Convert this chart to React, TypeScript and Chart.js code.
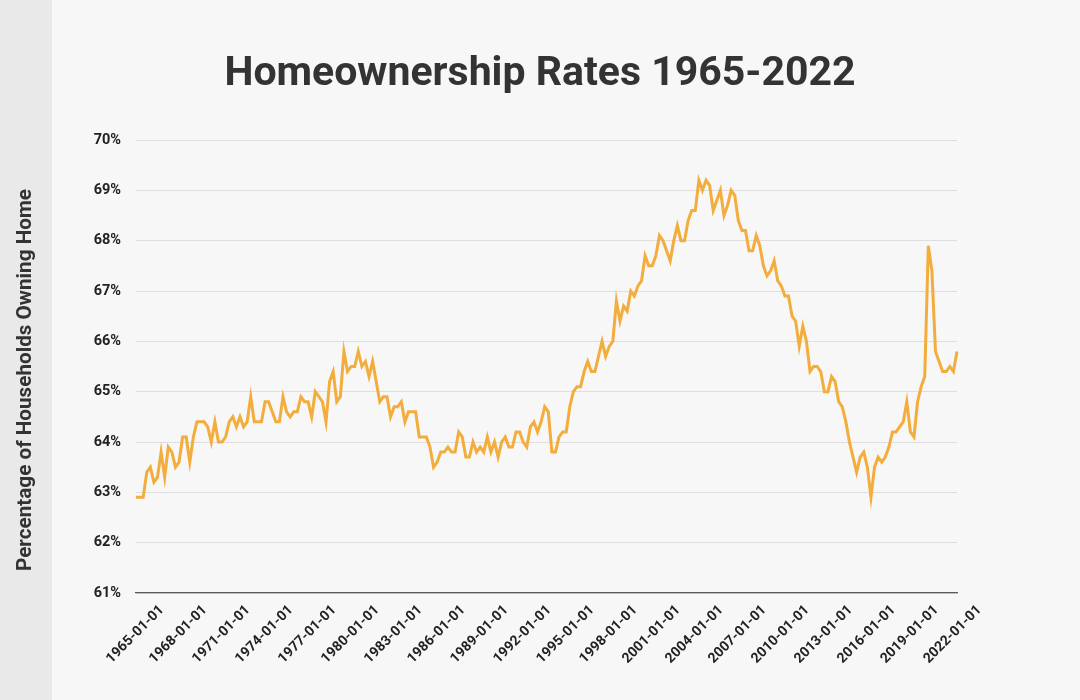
import React, { useEffect, useRef } from 'react';
import { Chart, registerables } from 'chart.js';

Chart.register(...registerables);

const TITLE = 'Homeownership Rates 1965-2022';
const Y_TITLE = 'Percentage of Households Owning Home';
const START_YEAR = 1965;
const QUARTER_MONTHS = ['01', '04', '07', '10'];
const Y_MIN = 61;
const Y_MAX = 70;
const TICK_EVERY = 12;

// Quarterly homeownership rate (%)
const rates1960s = [
  62.9, 62.9, 62.9, 63.4, 63.5, 63.2, 63.3, 63.8, 63.3, 63.9, 63.8, 63.5,
  63.6, 64.1, 64.1, 63.6, 64.1, 64.4, 64.4, 64.4,
];
const rates1970s = [
  64.3, 64.0, 64.4, 64.0, 64.0, 64.1, 64.4, 64.5, 64.3, 64.5, 64.3, 64.4,
  64.9, 64.4, 64.4, 64.4, 64.8, 64.8, 64.6, 64.4, 64.4, 64.9, 64.6, 64.5,
  64.6, 64.6, 64.9, 64.8, 64.8, 64.5, 65.0, 64.9, 64.8, 64.4, 65.2, 65.4,
  64.8, 64.9, 65.8, 65.4,
];
const rates1980s = [
  65.5, 65.5, 65.8, 65.5, 65.6, 65.3, 65.6, 65.2, 64.8, 64.9, 64.9, 64.5,
  64.7, 64.7, 64.8, 64.4, 64.6, 64.6, 64.6, 64.1, 64.1, 64.1, 63.9, 63.5,
  63.6, 63.8, 63.8, 63.9, 63.8, 63.8, 64.2, 64.1, 63.7, 63.7, 64.0, 63.8,
  63.9, 63.8, 64.1, 63.8,
];
const rates1990s = [
  64.0, 63.7, 64.0, 64.1, 63.9, 63.9, 64.2, 64.2, 64.0, 63.9, 64.3, 64.4,
  64.2, 64.4, 64.7, 64.6, 63.8, 63.8, 64.1, 64.2, 64.2, 64.7, 65.0, 65.1,
  65.1, 65.4, 65.6, 65.4, 65.4, 65.7, 66.0, 65.7, 65.9, 66.0, 66.8, 66.4,
  66.7, 66.6, 67.0, 66.9,
];
const rates2000s = [
  67.1, 67.2, 67.7, 67.5, 67.5, 67.7, 68.1, 68.0, 67.8, 67.6, 68.0, 68.3,
  68.0, 68.0, 68.4, 68.6, 68.6, 69.2, 69.0, 69.2, 69.1, 68.6, 68.8, 69.0,
  68.5, 68.7, 69.0, 68.9, 68.4, 68.2, 68.2, 67.8, 67.8, 68.1, 67.9, 67.5,
  67.3, 67.4, 67.6, 67.2,
];
const rates2010s = [
  67.1, 66.9, 66.9, 66.5, 66.4, 65.9, 66.3, 66.0, 65.4, 65.5, 65.5, 65.4,
  65.0, 65.0, 65.3, 65.2, 64.8, 64.7, 64.4, 64.0, 63.7, 63.4, 63.7, 63.8,
  63.5, 62.9, 63.5, 63.7, 63.6, 63.7, 63.9, 64.2, 64.2, 64.3, 64.4, 64.8,
  64.2, 64.1, 64.8, 65.1,
];
const rates2020s = [65.3, 67.9, 67.4, 65.8, 65.6, 65.4, 65.4, 65.5, 65.4, 65.8];

const rates = [
  ...rates1960s,
  ...rates1970s,
  ...rates1980s,
  ...rates1990s,
  ...rates2000s,
  ...rates2010s,
  ...rates2020s,
];

const dateLabels = rates.map(
  (_, i) => `${START_YEAR + Math.floor(i / 4)}-${QUARTER_MONTHS[i % 4]}-01`
);

const FONT = 'Roboto';

const backgroundPlugin = {
  id: 'pageBackground',
  beforeDraw(chart: any) {
    const { ctx, width, height } = chart;
    ctx.save();
    ctx.fillStyle = '#f7f7f7';
    ctx.fillRect(0, 0, width, height);
    ctx.fillStyle = '#e9e9e9';
    ctx.fillRect(0, 0, 52, height);
    ctx.restore();
  },
};

const yTitlePlugin = {
  id: 'yAxisTitle',
  afterDraw(chart: any) {
    const { ctx } = chart;
    ctx.save();
    ctx.translate(26, 380);
    ctx.rotate(-Math.PI / 2);
    ctx.fillStyle = '#333333';
    ctx.font = `bold 20.7px ${FONT}`;
    ctx.textAlign = 'center';
    ctx.textBaseline = 'middle';
    ctx.fillText(Y_TITLE, 0, 0);
    ctx.restore();
  },
};

export default function App() {
  const canvasRef = useRef<HTMLCanvasElement | null>(null);

  useEffect(() => {
    if (!canvasRef.current) return;
    const chart = new Chart(canvasRef.current, {
      type: 'line',
      data: {
        labels: dateLabels,
        datasets: [
          {
            data: rates,
            borderColor: '#f3ad3c',
            borderWidth: 3,
            pointRadius: 0,
            pointHoverRadius: 0,
            tension: 0,
            fill: false,
          },
        ],
      },
      options: {
        responsive: false,
        animation: false,
        devicePixelRatio: 1,
        layout: { padding: { top: 0, left: 0, right: 0, bottom: 0 } },
        plugins: {
          legend: { display: false },
          tooltip: { enabled: false },
          title: {
            display: true,
            text: TITLE,
            color: '#333333',
            font: { family: FONT, size: 41, weight: 'bold', lineHeight: 1.2 },
            padding: { top: 50, bottom: 40.8 },
          },
        },
        scales: {
          x: {
            type: 'category',
            grid: { display: false, drawTicks: false },
            border: { display: true, color: '#5a5a5a', width: 1.2 },
            ticks: {
              autoSkip: false,
              minRotation: 45,
              maxRotation: 45,
              padding: 9,
              labelOffset: 26,
              color: '#222222',
              font: { family: FONT, size: 14, weight: 'bold' },
              callback: function (this: any, value: any, index: number) {
                return index % TICK_EVERY === 0 ? dateLabels[index] : null;
              },
            },
            afterFit: (scale: any) => {
              scale.height = 107;
            },
          },
          y: {
            min: Y_MIN,
            max: Y_MAX,
            grid: { color: '#dedede', lineWidth: 1, drawTicks: false },
            border: { display: false },
            ticks: {
              stepSize: 1,
              padding: 15,
              color: '#222222',
              font: { family: FONT, size: 14.5, weight: 'bold' },
              callback: (v: any) => `${v}%`,
            },
            title: { display: false },
            afterFit: (scale: any) => {
              scale.width = 136;
            },
          },
          y2: {
            position: 'right',
            display: true,
            grid: { display: false, drawTicks: false },
            border: { display: false },
            ticks: { display: false },
            afterFit: (scale: any) => {
              scale.width = 123;
            },
          },
        },
      } as any,
      plugins: [backgroundPlugin, yTitlePlugin],
    });
    return () => chart.destroy();
  }, []);

  return (
    <div
      style={{
        position: 'fixed',
        left: 0,
        top: 0,
        width: 1080,
        height: 700,
        background: '#f7f7f7',
      }}
    >
      <canvas
        ref={canvasRef}
        width={1080}
        height={700}
        style={{ width: 1080, height: 700, display: 'block' }}
      />
    </div>
  );
}
